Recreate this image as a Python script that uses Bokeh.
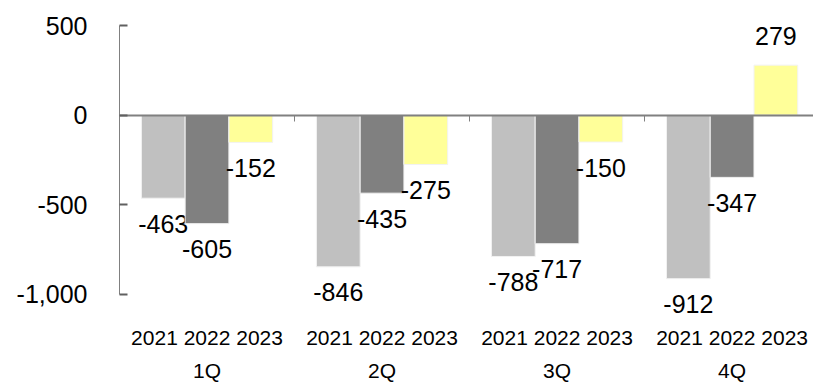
from bokeh.plotting import figure
from bokeh.models import (ColumnDataSource, Range1d, LinearAxis, FixedTicker,
                          NumeralTickFormatter)
from bokeh.embed import file_html
from bokeh.resources import INLINE
from bokeh.core.properties import value

quarters = ["1Q", "2Q", "3Q", "4Q"]
years = ["2021", "2022", "2023"]
v2021 = [-463, -846, -788, -912]
v2022 = [-605, -435, -717, -347]
v2023 = [-152, -275, -150, 279]
y_ticks = [-1000, -500, 0, 500]

series = [v2021, v2022, v2023]
colors = ["#c0c0c0", "#808080", "#ffff99"]
FONT = "Liberation Sans"
BAR_W = 0.25

p = figure(width=813, height=385, output_backend="svg", toolbar_location=None,
           x_range=Range1d(0, 3.965), y_range=Range1d(-1106, 500),
           x_axis_type=None, y_axis_type=None,
           min_border_left=119, min_border_right=0, min_border_top=25,
           min_border_bottom=72)
p.outline_line_color = None
p.xgrid.visible = False
p.ygrid.visible = False
p.background_fill_color = "white"

for j, (vals, col) in enumerate(zip(series, colors)):
    xs = [qi + 0.5 + (j - 1) * BAR_W for qi in range(len(quarters))]
    src = ColumnDataSource(dict(x=xs, top=vals))
    p.vbar(x="x", top="top", bottom=0, width=BAR_W, source=src,
           fill_color=col, line_color="#f2f2f2", line_width=1)
    neg = [(x, v) for x, v in zip(xs, vals) if v < 0]
    pos = [(x, v) for x, v in zip(xs, vals) if v >= 0]
    if neg:
        s = ColumnDataSource(dict(x=[a for a, _ in neg], y=[b for _, b in neg],
                                  t=[f"{b:,}" for _, b in neg]))
        p.text(x="x", y="y", text="t", source=s, text_align="center",
               text_baseline="top", y_offset=16.5, text_font=value(FONT),
               text_font_size="25px", text_color="black")
    if pos:
        s = ColumnDataSource(dict(x=[a for a, _ in pos], y=[b for _, b in pos],
                                  t=[f"{b:,}" for _, b in pos]))
        p.text(x="x", y="y", text="t", source=s, text_align="center",
               text_baseline="bottom", y_offset=-20, text_font=value(FONT),
               text_font_size="25px", text_color="black")

# y axis (line only from -1000 to 500)
yax = LinearAxis(ticker=FixedTicker(ticks=y_ticks), bounds=(y_ticks[0], y_ticks[-1]),
                 formatter=NumeralTickFormatter(format="0,0"))
yax.axis_line_color = "#808080"
yax.axis_line_width = 1
yax.major_tick_in = 8
yax.major_tick_out = 0
yax.major_tick_line_color = "#606060"
yax.major_tick_line_width = 2
yax.minor_tick_line_color = None
yax.major_label_standoff = 32
yax.major_label_text_font = FONT
yax.major_label_text_font_size = "25px"
yax.major_label_text_color = "black"
p.add_layout(yax, "left")

# zero line axis with category boundary ticks (pointing down)
bounds_ticks = list(range(1, len(quarters) + 1))
zax = LinearAxis(fixed_location=0, ticker=FixedTicker(ticks=bounds_ticks),
                 major_label_overrides={t: "" for t in bounds_ticks})
zax.axis_line_color = "#808080"
zax.axis_line_width = 2
zax.major_tick_in = 6
zax.major_tick_out = 0
zax.major_tick_line_color = "#808080"
zax.major_tick_line_width = 1
zax.minor_tick_line_color = None
p.add_layout(zax, "above")

qc = [qi + 0.5 for qi in range(len(quarters))]


def label_axis(labels, standoff):
    ax = LinearAxis(ticker=FixedTicker(ticks=qc),
                    major_label_overrides={c: l for c, l in zip(qc, labels)})
    ax.axis_line_color = None
    ax.major_tick_line_color = None
    ax.minor_tick_line_color = None
    ax.major_tick_in = 0
    ax.major_tick_out = 0
    ax.minor_tick_in = 0
    ax.minor_tick_out = 0
    ax.major_label_standoff = standoff
    ax.major_label_text_font = FONT
    ax.major_label_text_font_size = "21px"
    ax.major_label_text_color = "black"
    return ax


p.add_layout(label_axis([" ".join(years)] * len(quarters), 12), "below")
p.add_layout(label_axis(quarters, 7), "below")

open("out.html", "w").write(file_html(p, INLINE))
